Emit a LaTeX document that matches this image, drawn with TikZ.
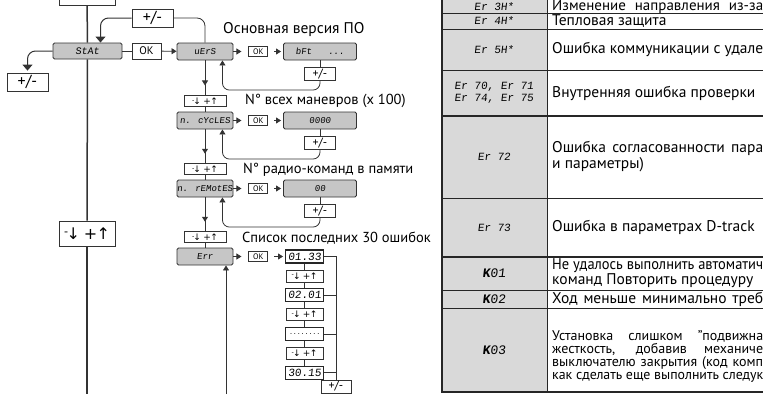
\documentclass[tikz,border=0pt]{standalone}
\usepackage{fontspec}
\setmainfont{PT Sans}
\newfontfamily\segfont[FakeSlant=0.12]{Liberation Mono}
\newfontfamily\symfont{DejaVu Sans}
\usetikzlibrary{positioning, arrows.meta, calc}

\newcommand{\updown}{{\symfont\raisebox{0.45ex}{\scalebox{0.7}{-}}\kern-0.1em↓\kern0.25em+\kern-0.05em↑}}
\newsavebox{\linebox}
\newcommand{\fillline}[1]{\sbox{\linebox}{#1}\ifdim\wd\linebox>211pt \resizebox{211pt}{\height}{#1}\else\makebox[211pt][s]{#1}\fi}

\begin{document}
\begin{tikzpicture}[
    x=1pt, y=-1pt,
    disp/.style={draw=black!80, fill=gray!45, rounded corners=1.5pt, line width=0.9pt, minimum width=56pt, minimum height=17pt, inner sep=0pt, font=\segfont\fontsize{9}{9}\selectfont},
    res/.style={disp, minimum width=73pt},
    okbox/.style={draw=black!80, fill=white, line width=0.6pt, minimum width=19pt, minimum height=10pt, inner sep=0pt, font=\fontsize{8}{8}\selectfont},
    pmbox/.style={draw=black!80, fill=white, line width=0.6pt, minimum width=31pt, minimum height=13pt, inner sep=0pt, font=\fontsize{12}{12}\selectfont},
    keybox/.style={pmbox, minimum width=42pt, minimum height=11pt, font=\fontsize{9}{9}\selectfont},
    bigkeys/.style={pmbox, minimum width=56pt, minimum height=25pt, line width=0.8pt, font=\fontsize{16}{16}\selectfont},
    bigpm/.style={pmbox, minimum width=41pt, minimum height=18pt, line width=0.8pt, font=\fontsize{16}{16}\selectfont},
    valbox/.style={draw=black!85, fill=white, line width=1.1pt, minimum width=38pt, minimum height=13pt, inner sep=0pt, font=\segfont\fontsize{11}{11}\selectfont},
    link/.style={draw=black!80, line width=0.8pt},
    mainline/.style={draw=black!80, line width=1.5pt},
    arr/.style={link, -{Triangle[length=5pt, width=6pt]}},
    bigarr/.style={link, line width=1pt, -{Triangle[length=6pt, width=10pt]}},
    lbl/.style={anchor=west, inner sep=0pt, font=\fontsize{14.5}{14.5}\selectfont},
    code/.style={inner sep=0pt, align=center, font=\segfont\fontsize{11}{12}\selectfont},
    desc/.style={anchor=west, inner sep=0pt, align=left, font=\fontsize{15.5}{14}\selectfont},
    cell/.style={draw=black!85, line width=1pt}
]
\useasboundingbox (0,0) rectangle (763,394);
\clip (0,0) rectangle (763,394);

% main menu line
\node[bigkeys] (topkeys) at (87,-7.5) {\updown};
\node[disp, minimum width=69pt, minimum height=16pt, font=\segfont\fontsize{10}{10}\selectfont] (stat) at (87.5,51) {StAt};
\node[bigkeys] (mainkeys) at (87,233.5) {\updown};
\coordinate (mainend) at (87,394);
\draw[mainline] (topkeys) -- (stat);
\draw[mainline] (stat) -- (mainkeys);
\draw[mainline] (mainkeys) -- (mainend);

\node[bigpm] (pmtop) at (152.5,18) {+/-};
\node[bigpm] (pmleft) at (27.5,82) {+/-};
\node[okbox, minimum width=29pt, minimum height=16pt, font=\fontsize{11}{11}\selectfont] (okstat) at (146.5,51) {OK};
\draw[bigarr, rounded corners=8pt] (pmtop.west) -| ($(stat.north)+(13,0)$);
\draw[bigarr, rounded corners=8pt, shorten >=2pt] (stat.west) -| (pmleft.north);

% submenu
\node[disp] (vers) at (205,51.5) {uErS};
\node[keybox] (k1) at (205,101) {\updown};
\node[disp] (cyc) at (205,120.5) {n. cYcLES};
\node[keybox] (k2) at (205,169) {\updown};
\node[disp] (rem) at (205,188.5) {n. rEMotES};
\node[keybox] (k3) at (205,237) {\updown};
\node[disp] (err) at (205,256.5) {Err};

\draw[link] (stat) -- (okstat);
\draw[arr] (okstat) -- (vers);
\draw[link, rounded corners=8pt] (pmtop.east) -| (vers.north);

\foreach \a/\b/\i in {vers/cyc/1, cyc/rem/2, rem/err/3} {
  \draw[arr] (\a.south) -- ($(\a.south)!0.72!(k\i.north)$);
  \draw[link] ($(\a.south)!0.6!(k\i.north)$) -- (k\i.north);
  \draw[link] (k\i) -- (\b);
}

\foreach \m/\v/\i in {vers/{bFt\ \ \ ...}/1, cyc/0000/2, rem/00/3} {
  \node[okbox, right=15pt of \m] (ok\i) {OK};
  \node[res, right=15pt of ok\i] (res\i) {\v};
  \node[pmbox, below=7pt of res\i] (pm\i) {+/-};
  \draw[arr, shorten >=7pt] (\m) -- (ok\i);
  \draw[arr, shorten <=6pt, shorten >=2pt] (ok\i) -- (res\i);
  \draw[link] (res\i) -- (pm\i);
  \draw[arr, rounded corners=7pt] (pm\i.south) -- ++(0,9) -| ($(\m.south east)+(-11,0)$);
}

\node[lbl, font=\fontsize{15.5}{15.5}\selectfont] (t1) at (223,30) {Основная версия ПО};
\node[lbl] (t2) at (245,101) {N° всех маневров (x 100)};
\node[lbl] (t3) at (243,170) {N° радио-команд в памяти};
\node[lbl] (t4) at (242,238) {Список последних 30 ошибок};

% error list
\node[okbox, right=15pt of err] (ok4) {OK};
\node[valbox, right=17pt of ok4] (v1) {01.33};
\node[keybox, minimum width=37pt, minimum height=12pt, below=6pt of v1] (e1) {\updown};
\node[valbox, below=6pt of e1] (v2) {02.01};
\node[keybox, minimum width=37pt, minimum height=12pt, below=6pt of v2] (e2) {\updown};
\node[valbox, below=6pt of e2, font=\segfont\fontsize{6.5}{6.5}\selectfont] (v3) {........};
\node[keybox, minimum width=37pt, minimum height=12pt, below=6pt of v3] (e3) {\updown};
\node[valbox, below=6pt of e3] (v4) {30.15};
\node[pmbox, minimum width=30pt] (pmerr) at (336,386.5) {+/-};
\coordinate (errend) at (226,394);

\draw[arr, shorten >=7pt] (err) -- (ok4);
\draw[arr, shorten <=6pt, shorten >=2pt] (ok4) -- (v1);
\draw[link, line width=0.6pt] (v1) -- (e1) -- (v2) -- (e2) -- (v3) -- (e3) -- (v4);
\draw[link] (v1.east) -| (pmerr.north);
\foreach \i in {2,3,4}
  \draw[link] (v\i.east) -- (v\i.east -| pmerr.north);
\draw[link] (pmerr.south) -- (pmerr.south |- errend);
\draw[arr] (errend) -- (errend |- err.south);

% error table
\fill[gray!30] (442,-5) rectangle (547,392);
\foreach \y in {13,29,70,198,290,308}
  \draw[cell] (442,\y) -- (770,\y);
\foreach \y in {116,257,392}
  \draw[cell, line width=2pt] (442,\y) -- (770,\y);
\draw[cell, line width=2.5pt] (442,-5) -- (442,393);
\draw[cell] (547,-5) -- (547,392);

\node[code] (c3) at (494,6.5) {Er 3H*};
\node[code] (c4) at (494,21) {Er 4H*};
\node[code] (c5) at (494,49.5) {Er 5H*};
\node[code] (c70) at (494,93) {Er 70, Er 71\\Er 74, Er 75};
\node[code] (c72) at (494,157) {Er 72};
\node[code] (c73) at (494,227.5) {Er 73};
\node[code, font=\segfont\fontsize{13}{13}\selectfont] (k01) at (494,273.5) {\textbf{K}01};
\node[code, font=\segfont\fontsize{13}{13}\selectfont] (k02) at (494,299) {\textbf{K}02};
\node[code, font=\segfont\fontsize{13}{13}\selectfont] (k03) at (494,350) {\textbf{K}03};

\node[desc, font=\fontsize{15}{14}\selectfont] (d3) at (552,7) {\fillline{Изменение направления из-за}};
\node[desc] (d4) at (552,21) {Тепловая защита};
\node[desc] (d5) at (552,49.5) {\fillline{Ошибка коммуникации с удале}};
\node[desc] (d70) at (552,93) {Внутренняя ошибка проверки};
\node[desc, font=\fontsize{15.5}{16}\selectfont] (d72) at (552,157) {\fillline{Ошибка согласованности пара}\\и параметры)};
\node[desc] (d73) at (552,227.5) {Ошибка в параметрах D-track};
\node[desc] (d01) at (552,273.5) {\fillline{Не удалось выполнить автоматич}\\команд Повторить процедуру};
\node[desc] (d02) at (552,299) {\fillline{Ход меньше минимально треб}};
\node[desc, font=\fontsize{14}{13}\selectfont] (d03) at (552,356.5) {\fillline{Установка слишком "подвижна}\\\fillline{жесткость, добавив механиче}\\\fillline{выключателю закрытия (код комп}\\\fillline{как сделать еще выполнить следук}};
\end{tikzpicture}
\end{document}
